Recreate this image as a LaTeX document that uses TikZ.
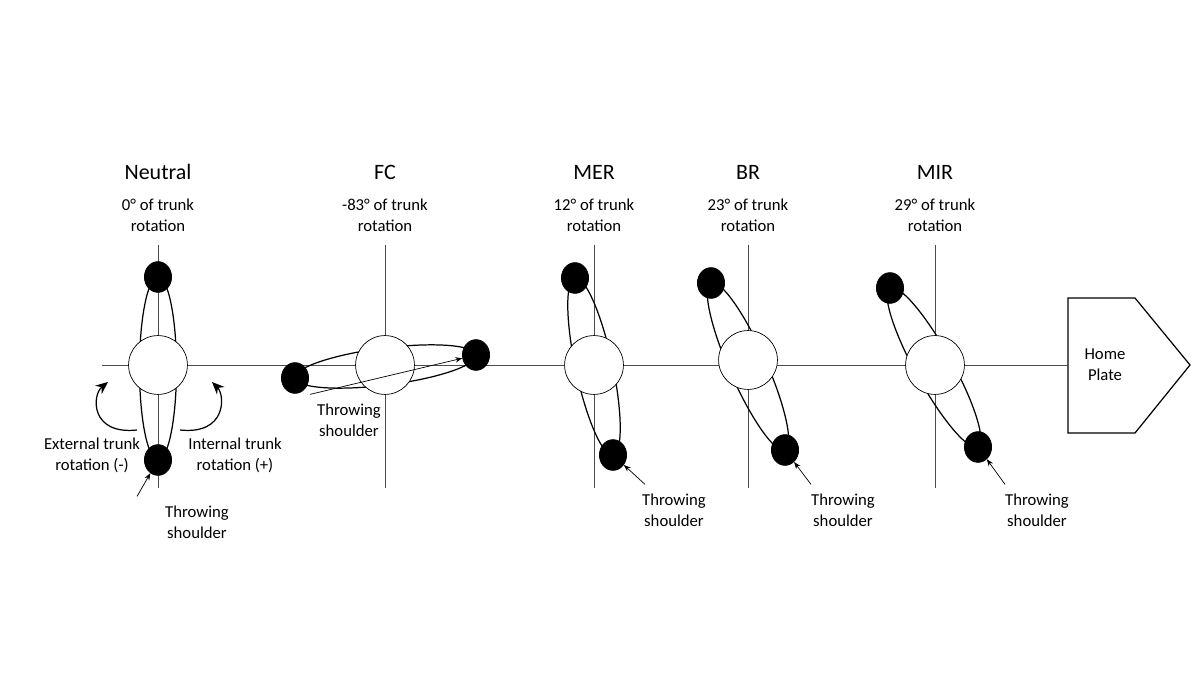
\documentclass[tikz,border=0pt]{standalone}
\usepackage{fontspec}
\setmainfont{Carlito}
\usetikzlibrary{arrows.meta,positioning,calc}
\tikzset{
  title/.style={font=\fontsize{12.5}{15}\selectfont},
  note/.style={font=\fontsize{9.5}{12}\selectfont, align=center},
  trunk/.style={circle, draw=black, fill=white, minimum size=33.5pt, inner sep=0pt},
  shoulder/.style={ellipse, draw=black, fill=black, minimum width=15.5pt, minimum height=17.5pt, inner sep=0pt},
  axis/.style={draw=black!70, line width=0.5pt},
  arm/.style={draw=black, line width=0.7pt},
  pointer/.style={-{Stealth[length=4pt,width=3pt]}, line width=0.4pt},
  turn/.style={-{Stealth[length=7pt,width=6pt]}, line width=0.7pt}
}
\usetikzlibrary{shapes.geometric}
\begin{document}
\begin{tikzpicture}[x=0.02cm, y=-0.02cm]
\useasboundingbox (0,0) rectangle (1200,675);

% home plate and main axis
\coordinate (hp1) at (1068,298);
\coordinate (hp2) at (1135,298);
\coordinate (hp3) at (1190,365);
\coordinate (hp4) at (1135,433);
\coordinate (hp5) at (1068,433);
\draw [arm] (hp1) -- (hp2) -- (hp3) -- (hp4) -- (hp5) -- cycle;
\node (plate) [note] at (1105,365) {Home\\Plate};
\coordinate (axisL) at (102,365);
\coordinate (axisR) at (1068,365);
\draw [axis] (axisL) -- (axisR);

% vertical axes, titles
\foreach \x/\name/\ang in {158/Neutral/0, 385/FC/-83, 594/MER/12, 748/BR/23, 935/MIR/29} {
  \draw [axis] (\x,245) -- (\x,488);
  \node [title] at (\x,172) {\name};
  \node [note] at (\x,215) {\ang° of trunk\\rotation};
}

% trunks: center / upper shoulder / lower shoulder
\foreach \id/\cx/\cy/\ax/\ay/\bx/\by in {n/158/365/158/277/158/460, fc/385/365/476/355/295/378, mer/594/365/575/278/613/455, br/748/360/711/283/785/450, mir/935/365/890/288/978/447} {
  \path let \p1=($(\bx,\by)-(\ax,\ay)$), \n1={atan2(\y1,\x1)}, \n2={veclen(\x1,\y1)/2} in
    [arm] ($(\ax,\ay)!.5!(\bx,\by)$) ellipse [x radius=\n2, y radius=0.37cm, rotate=\n1];
  \node (c\id) [trunk] at (\cx,\cy) {};
  \node (a\id) [shoulder] at (\ax,\ay) {};
  \node (b\id) [shoulder] at (\bx,\by) {};
}

% throwing shoulder labels
\node (tsn) [note] at (197,522) {Throwing\\shoulder};
\node (tsfc) [note] at (349,420) {Throwing\\shoulder};
\node (tsmer) [note] at (674,510) {Throwing\\shoulder};
\node (tsbr) [note] at (843,510) {Throwing\\shoulder};
\node (tsmir) [note] at (1037,510) {Throwing\\shoulder};
\draw [pointer] (tsn.north west) ++(-22,-3) coordinate (pn) -- (bn);
\draw [pointer] (tsfc.north west) ++(-1,-3) coordinate (pfc) -- (afc);
\draw [pointer] (tsmer.north west) ++(9,-3) coordinate (pmer) -- (bmer);
\draw [pointer] (tsbr.north west) ++(6,-3) coordinate (pbr) -- (bbr);
\draw [pointer] (tsmir.north west) ++(6,-3) coordinate (pmir) -- (bmir);

% rotation directions
\node (ext) [note] at (92,455) {External trunk\\rotation (-)};
\node (int) [note] at (235,455) {Internal trunk\\rotation (+)};
\coordinate (e1) at (137,430);
\coordinate (e2) at (108,382);
\coordinate (i1) at (180,430);
\coordinate (i2) at (212,382);
\draw [turn] (e1) .. controls (90,435) and (92,395) .. (e2);
\draw [turn] (i1) .. controls (227,435) and (225,395) .. (i2);
\end{tikzpicture}
\end{document}
